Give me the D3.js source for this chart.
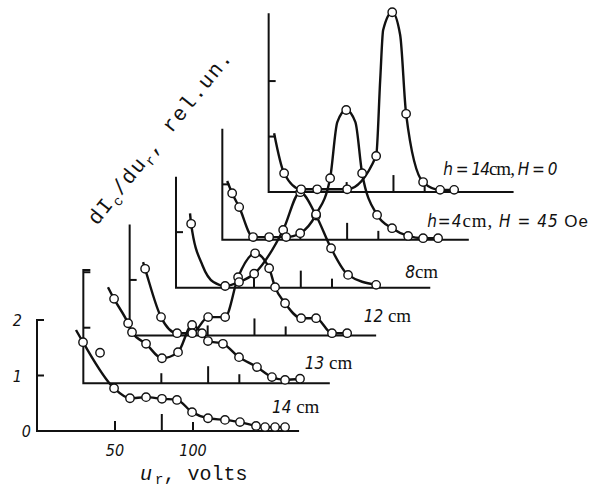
<!DOCTYPE html>
<html>
<head>
<meta charset="utf-8">
<script src="https://cdn.jsdelivr.net/npm/d3@7"></script>
<style>
  body { margin: 0; background: #fff; }
  svg { display: block; }
</style>
</head>
<body>
<svg id="chart" width="590" height="489"></svg>
<script>
// each curve in its own panel coords: [volts, rel.un., kind]
// kind 1 = circle on the line, 0 = line only, 2 = circle off the line
const curve14 = [[25,1.82,0],[29.5,1.60,1],[40.4,1.41,2],[49.4,0.77,1],[59.6,0.59,1],[69.9,0.61,1],[80.1,0.58,1],[89.7,0.56,1],[99.4,0.34,1],[109.6,0.23,1],[120.5,0.20,1],[130.1,0.16,1],[140.4,0.09,1],[146.2,0.07,1],[152.6,0.07,1],[159,0.07,1]];
const curve13 = [[15.8,1.73,0],[19.7,1.52,1],[28.7,1.08,1],[31.2,0.92,1],[40.2,0.71,1],[50.4,0.45,1],[60.7,0.56,1],[69.7,1.05,1],[76.1,0.90,1],[79.9,0.76,1],[89.5,0.71,1],[99.8,0.47,1],[111.3,0.29,1],[120.9,0.11,1],[129.3,0.06,1],[138.9,0.08,1]];
const curve12 = [[8.6,1.32,0],[9.9,1.20,1],[20.1,0.33,1],[30.4,0.04,1],[40.1,0.04,1],[50.3,0.33,1],[61.2,0.33,1],[69.5,1.05,1],[80.4,1.48,1],[89.4,1.21,1],[93.2,0.87,1],[99.6,0.58,1],[109.9,0.31,1],[119.5,0.31,1],[129.7,0.04,1],[139.4,0.04,1]];
const curve8 = [[9,1.34,0],[9.7,1.15,1],[17,0.40,0],[24,0.10,0],[31.5,0.03,1],[40.4,0.10,1],[50.1,0.25,1],[68.7,1.04,1],[79.6,1.72,1],[89.8,1.30,1],[99.4,0.71,1],[110.3,0.23,1],[128.3,0.05,1]];
const curve4H45 = [[3.1,1.06,0],[6.3,0.84,1],[10.8,0.59,1],[19.7,0.05,1],[30,0.05,1],[40.9,0.05,1],[49.9,0.12,1],[60.1,0.46,1],[69.1,1.11,1],[73.7,2.12,0],[79.4,2.34,1],[85.3,2.12,0],[89.6,1.20,1],[99.2,0.45,1],[108.8,0.21,1],[119.1,0.07,1],[128.7,0.03,1],[138.3,0.03,1]];
const curve14H0 = [[3.5,1.06,0],[9.9,0.34,1],[20.8,0.05,1],[31.1,0.05,1],[50.3,0.05,1],[68.9,0.65,1],[71.5,2.02,0],[73.4,2.92,0],[79.2,3.24,1],[84.3,2.83,0],[88.1,1.41,1],[99,0.18,1],[109.9,0.04,1],[118.9,0.04,1]];

const curves = [curve14, curve13, curve12, curve8, curve4H45, curve14H0];

const axisTop = [2, 2.04, 2, 2, 2, 3.22];
const axisEnd = [168, 158, 158, 163, 158, 157];
const yTicks = [[1, 2], [1, 2], [1], [1], [1], [1, 2]];
const xTicks = [50, 80, 100];
const xTickLabels = ["50", "", "100"];
const yTickLabels = ["0", "1", "2"];

const curveLabels = [
  [["14", "n"], [" cm", "s"]],
  [["13", "n"], [" cm", "s"]],
  [["12", "n"], [" cm", "s"]],
  [["8", "n"], ["cm", "s"]],
  [["h", "n"], ["=", "n"], ["4", "n"], ["cm", "s"], [", ", "s"], ["H", "n"], [" = ", "n"], ["45", "n"], [" Oe", "o"]],
  [["h", "n"], [" = ", "n"], ["14", "n"], ["cm", "s"], [", ", "s"], ["H", "n"], [" = ", "n"], ["0", "n"]]
];

// layout
const shiftV = 29.7, shiftU = 0.861;
const labelAt = [[150.6, 0.32], [142, 0.26], [150, 0.24], [146.9, 0.17], [131.3, 0.23], [111.9, 0.31]];
const labelSpacing = [0, 0, 0, 0, 1, -1];
const tickLen = [10, 17, 9];

const svg = d3.select("#chart");
svg.append("rect").attr("width", 590).attr("height", 489).attr("fill", "#fff");

const x = d3.scaleLinear().domain([0, 100]).range([37, 193]);
const y = d3.scaleLinear().domain([0, 2]).range([431, 320]);
const dx = x(shiftV) - x(0), dy = y(shiftU) - y(0);
const shift = i => `translate(${i * dx},${i * dy})`;

const numFont = "'DejaVu Sans Condensed','DejaVu Sans',sans-serif";
const monoFont = "'Liberation Mono','DejaVu Sans Mono',monospace";

// axes
const axes = svg.append("g").attr("fill", "none").attr("stroke", "#111").attr("stroke-width", 2);
curves.forEach((c, i) => {
  const g = axes.append("g").attr("transform", shift(i));
  let p = `M${x(0)},${y(axisTop[i])}L${x(0)},${y(0)}L${x(axisEnd[i])},${y(0)}`;
  if (i < 2) p = `M${x(0) + 7},${y(axisTop[i])}` + p.replace("M", "L");
  g.append("path").attr("d", p);
  g.selectAll("line.yt").data(yTicks[i]).join("line")
    .attr("x1", x(0)).attr("x2", x(0) + 7)
    .attr("y1", d => y(d)).attr("y2", d => y(d));
  g.selectAll("line.xt").data(xTicks).join("line")
    .attr("x1", d => x(d)).attr("x2", d => x(d))
    .attr("y1", y(0)).attr("y2", (d, k) => y(0) - tickLen[k]);
});

// curves
const line = d3.line()
  .x(d => x(d[0])).y(d => y(d[1]))
  .curve(d3.curveMonotoneX);

const lines = svg.append("g").attr("fill", "none").attr("stroke", "#111")
  .attr("stroke-width", 2.4).attr("stroke-linejoin", "round");
curves.forEach((c, i) => {
  lines.append("path").attr("transform", shift(i))
    .attr("d", line(c.filter(d => d[2] !== 2)));
});

const dots = svg.append("g").attr("fill", "#fff").attr("stroke", "#111").attr("stroke-width", 1.4);
curves.forEach((c, i) => {
  dots.append("g").attr("transform", shift(i))
    .selectAll("circle").data(c.filter(d => d[2] > 0)).join("circle")
    .attr("cx", d => x(d[0])).attr("cy", d => y(d[1])).attr("r", 4.2);
});

// base panel tick labels
const labels = svg.append("g").attr("fill", "#111")
  .attr("font-family", numFont).attr("font-style", "italic").attr("font-size", 16);
labels.selectAll("text.xl").data(xTicks).join("text")
  .attr("x", d => x(d)).attr("y", 456).attr("text-anchor", "middle")
  .text((d, k) => xTickLabels[k]);
labels.selectAll("text.yl").data(yTickLabels).join("text")
  .attr("x", (d, k) => k === 0 ? 31 : 22).attr("y", (d, k) => y(k) + 6)
  .attr("text-anchor", "end")
  .text(d => d);

// curve labels
const fontOf = { n: numFont, s: "'Liberation Serif','DejaVu Serif',serif", o: "'Liberation Sans',Arial,sans-serif" };
curveLabels.forEach((segs, i) => {
  const t = svg.append("text").attr("transform", shift(i))
    .attr("x", x(labelAt[i][0])).attr("y", y(labelAt[i][1]))
    .attr("fill", "#111").attr("font-size", 17)
    .attr("letter-spacing", labelSpacing[i])
    .attr("xml:space", "preserve");
  segs.forEach(([s, f]) => {
    t.append("tspan").attr("font-family", fontOf[f])
      .attr("font-style", f === "n" ? "italic" : "normal")
      .attr("font-size", f === "s" ? 19 : 17)
      .text(s);
  });
});

// x title
const xt = svg.append("text").attr("x", 140).attr("y", 480)
  .attr("fill", "#111").attr("font-family", monoFont).attr("font-size", 20)
  .attr("xml:space", "preserve");
xt.append("tspan").attr("font-style", "italic").text("u");
xt.append("tspan").attr("font-size", 14).attr("dy", 4).attr("dx", 3).text("r");
xt.append("tspan").attr("dy", -4).text(", volts");

// y title
const yt = svg.append("text").attr("transform", "translate(97,226) rotate(-51)")
  .attr("fill", "#111").attr("font-family", monoFont).attr("font-size", 21)
  .attr("letter-spacing", 1.5).attr("xml:space", "preserve");
yt.append("tspan").text("dI");
yt.append("tspan").attr("font-size", 14).attr("dy", 5).text("c");
yt.append("tspan").attr("dy", -5).text("/du");
yt.append("tspan").attr("font-size", 14).attr("dy", 5).text("r");
yt.append("tspan").attr("dy", -5).text(", rel.un.");
</script>
</body>
</html>
